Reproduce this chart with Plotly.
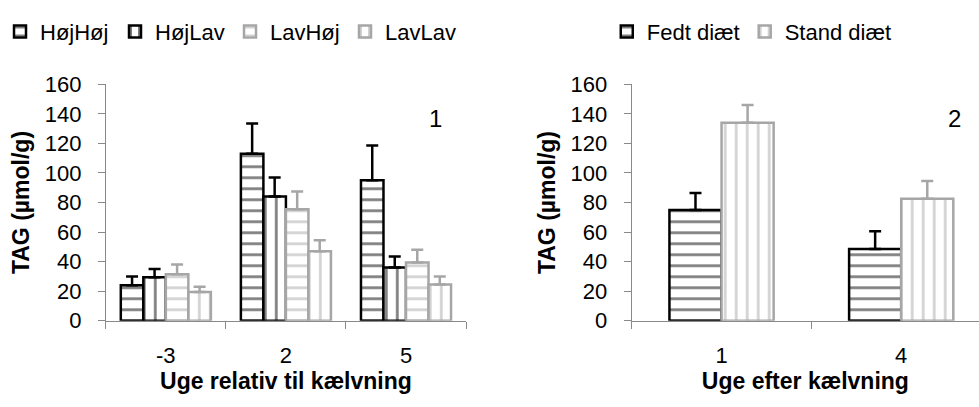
import plotly.graph_objects as go

# Panel 1: TAG by week relative to calving, four groups
weeks_rel = ["-3", "2", "5"]
hoj_hoj = [24, 113, 95]
hoj_hoj_err = [6, 20.5, 23.5]
hoj_lav = [29.5, 84, 36]
hoj_lav_err = [5.5, 13, 7.5]
lav_hoj = [31.5, 75.5, 39.5]
lav_hoj_err = [6.5, 12, 8.5]
lav_lav = [19.5, 47, 24.5]
lav_lav_err = [3.5, 7.5, 5.5]

# Panel 2: TAG by week after calving, two diets
weeks_after = ["1", "4"]
fedt = [75, 48.5]
fedt_err = [11.5, 12]
stand = [134, 82.5]
stand_err = [12, 12]

BLACK = "#000000"
GRAY = "#a6a6a6"
AXIS = "#898989"
FONT = "Liberation Sans, Arial, sans-serif"
FS = 22
FS_TITLE = 23
W, H = 979, 407


def bar(name, x, y, err, color, shape, offset, width, xaxis, yaxis, legend):
    return go.Bar(
        name=name, x=x, y=y, xaxis=xaxis, yaxis=yaxis, legend=legend,
        offset=offset, width=width,
        marker=dict(
            color="white",
            line=dict(color=color, width=2.5),
            pattern=dict(shape=shape, fgcolor=color, bgcolor="white",
                         size=11, solidity=0.25, fillmode="overlay"),
        ),
        error_y=dict(type="data", array=err, arrayminus=[0] * len(err),
                     symmetric=False, color=color, thickness=2.5, width=6),
    )


bw1 = 0.1875
bw2 = 0.29
traces = [
    bar("HøjHøj", weeks_rel, hoj_hoj, hoj_hoj_err, BLACK, "-", -2 * bw1, bw1, "x", "y", "legend"),
    bar("HøjLav", weeks_rel, hoj_lav, hoj_lav_err, BLACK, "|", -bw1, bw1, "x", "y", "legend"),
    bar("LavHøj", weeks_rel, lav_hoj, lav_hoj_err, GRAY, "-", 0, bw1, "x", "y", "legend"),
    bar("LavLav", weeks_rel, lav_lav, lav_lav_err, GRAY, "|", bw1, bw1, "x", "y", "legend"),
    bar("Fedt diæt", weeks_after, fedt, fedt_err, BLACK, "-", -bw2, bw2, "x2", "y2", "legend2"),
    bar("Stand diæt", weeks_after, stand, stand_err, GRAY, "|", 0, bw2, "x2", "y2", "legend2"),
]

fig = go.Figure(traces)

y_bottom = 1 - 329 / H
y_top = 1 - 77 / H

common_x = dict(type="category", showline=True, linecolor=AXIS, linewidth=1,
                ticks="outside", tickson="boundaries", ticklen=7, tickcolor=AXIS,
                showgrid=False, zeroline=False, ticklabelstandoff=15,
                tickfont=dict(family=FONT, size=FS, color="black"),
                title_font=dict(family=FONT, size=FS_TITLE, color="black"))
common_y = dict(range=[0, 160], dtick=20, showline=True, linecolor=AXIS, linewidth=1,
                ticks="outside", ticklen=7, tickcolor=AXIS, showgrid=False,
                zeroline=False, domain=[y_bottom, y_top], ticklabelstandoff=12,
                tickfont=dict(family=FONT, size=FS, color="black"),
                title=dict(text="<b>TAG (µmol/g)</b>", standoff=8),
                title_font=dict(family=FONT, size=FS_TITLE, color="black"))

fig.update_layout(
    width=W, height=H,
    margin=dict(l=0, r=0, t=0, b=0),
    paper_bgcolor="white", plot_bgcolor="white",
    barmode="overlay",
    xaxis=dict(common_x, domain=[104 / W, 465 / W], range=[-0.5, 2.5],
               title=dict(text="<b>Uge relativ til kælvning</b>", standoff=4)),
    yaxis=dict(common_y, anchor="x"),
    xaxis2=dict(common_x, domain=[631 / W, 1.0], range=[-0.5, 1.433],
                title=dict(text="<b>Uge efter kælvning</b>", standoff=4)),
    yaxis2=dict(common_y, anchor="x2"),
    legend=dict(orientation="h", x=-2 / W, y=1 - 21 / H, xanchor="left", yanchor="middle",
                font=dict(family=FONT, size=FS, color="black"),
                entrywidth=70, entrywidthmode="pixels", bgcolor="rgba(0,0,0,0)"),
    legend2=dict(orientation="h", x=606 / W, y=1 - 21 / H, xanchor="left", yanchor="middle",
                 font=dict(family=FONT, size=FS, color="black"),
                 bgcolor="rgba(0,0,0,0)"),
    annotations=[
        dict(text="1", x=434 / W, y=137, xref="paper", yref="y",
             showarrow=False, font=dict(family=FONT, size=24, color="black")),
        dict(text="2", x=963 / W, y=137, xref="paper", yref="y2",
             showarrow=False, font=dict(family=FONT, size=24, color="black")),
    ],
)

fig.write_html("out.html")
